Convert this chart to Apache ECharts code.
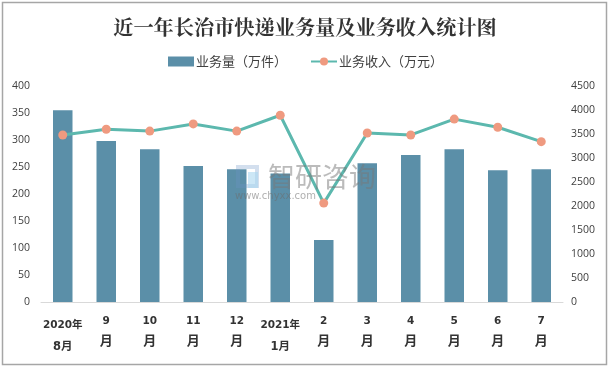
<!DOCTYPE html>
<html><head><meta charset="utf-8">
<style>html,body{margin:0;padding:0;background:#fff}#c{width:610px;height:368px}</style>
<script src="https://cdn.jsdelivr.net/npm/echarts@6/dist/echarts.min.js"></script>
</head><body><div id="c"></div>
<script>
const categories = ['2020年\n8月','9\n月','10\n月','11\n月','12\n月','2021年\n1月','2\n月','3\n月','4\n月','5\n月','6\n月','7\n月'];
const volume = [355,298,283,252,246,238,115,257,272,283,244,246];
const revenue = [3480,3600,3560,3710,3560,3890,2060,3520,3480,3810,3640,3340];
const leftTicks = {min:0,max:400,interval:50};
const rightTicks = {min:0,max:4500,interval:500};
const F = '"Noto Sans CJK SC","Microsoft YaHei",sans-serif';
const chart = echarts.init(document.getElementById('c'),null,{renderer:'canvas'});
chart.setOption({
  animation:false,
  backgroundColor:'#fff',
  title:{text:'近一年长治市快递业务量及业务收入统计图',left:'center',top:12,
    textStyle:{fontFamily:'"Noto Serif CJK SC","Noto Sans CJK SC",serif',fontSize:20.2,fontWeight:'bold',color:'#333'}},
  legend:{top:50,left:163,itemGap:23,selectedMode:false,
    textStyle:{fontFamily:F,fontSize:13,color:'#404040',padding:[0,0,0,-3]},
    data:[{name:'业务量（万件）',itemStyle:{color:'#5b8fa8'},icon:'rect'},{name:'业务收入（万元）'}],
    itemWidth:26,itemHeight:10},
  grid:{left:41,right:47,top:86,bottom:66},
  xAxis:{type:'category',data:categories,
    axisLine:{lineStyle:{color:'#d9d9d9',width:1}},axisTick:{show:false},
    axisLabel:{interval:0,margin:10,color:'#333',
      formatter:(v)=>{const p=v.split('\n');return p[0].length>2?`{a1|${p[0]}}\n{a2|${p[1]}}`:`{b1|${p[0]}}\n{b2|${p[1]}}`;},
      rich:{
        a1:{fontFamily:'"DejaVu Sans",'+F,fontSize:10.5,fontWeight:'bold',lineHeight:26,color:'#333'},
        a2:{fontFamily:'"DejaVu Sans",'+F,fontSize:11.5,fontWeight:'bold',lineHeight:18,color:'#333'},
        b1:{fontFamily:'"DejaVu Sans",'+F,fontSize:10.5,fontWeight:'bold',lineHeight:19,color:'#333'},
        b2:{fontFamily:F,fontSize:13,fontWeight:'bold',lineHeight:19,color:'#333'}
      }}},
  yAxis:[
    {type:'value',...leftTicks,splitLine:{show:false},axisLine:{show:false},axisTick:{show:false},
      axisLabel:{color:'#404040',fontSize:10.5,fontFamily:'"Open Sans",sans-serif',margin:11,padding:[3,0,0,0]}},
    {type:'value',...rightTicks,splitLine:{show:false},axisLine:{show:false},axisTick:{show:false},
      axisLabel:{color:'#404040',fontSize:10.5,fontFamily:'"Open Sans",sans-serif',margin:8,padding:[3,0,0,0],
        formatter:(v)=>String(v)}}
  ],
  series:[
    {name:'业务量（万件）',type:'bar',data:volume,barWidth:19.5,itemStyle:{color:'#5b8fa8'},z:2},
    {name:'业务收入（万元）',type:'line',yAxisIndex:1,data:revenue,symbol:'circle',symbolSize:9,
      lineStyle:{color:'#5cb8ae',width:3},itemStyle:{color:'#ef9a80'},z:3}
  ],
  graphic:[
    {type:'rect',silent:true,z:0,shape:{x:2.5,y:2.5,width:604,height:362},style:{fill:'none',stroke:'#a6a6a6',lineWidth:1.5}},
    {type:'rect',silent:true,z:100,shape:{x:238,y:167,width:19,height:19},style:{fill:'none',stroke:'rgba(110,150,200,0.3)',lineWidth:4}},
    {type:'rect',silent:true,z:101,shape:{x:248,y:172,width:10,height:16},style:{fill:'rgba(170,215,240,0.6)'}},
    {type:'text',silent:true,z:102,style:{x:268,y:163,text:'智研咨询',font:'27px "Noto Sans CJK SC"',fill:'rgba(120,120,120,0.5)'}},
    {type:'text',silent:true,z:103,style:{x:235,y:191,text:'www.chyxx.com',font:'10px "DejaVu Sans"',fill:'rgba(110,110,110,0.55)',letterSpacing:4.6}}
  ]
});
</script></body></html>
